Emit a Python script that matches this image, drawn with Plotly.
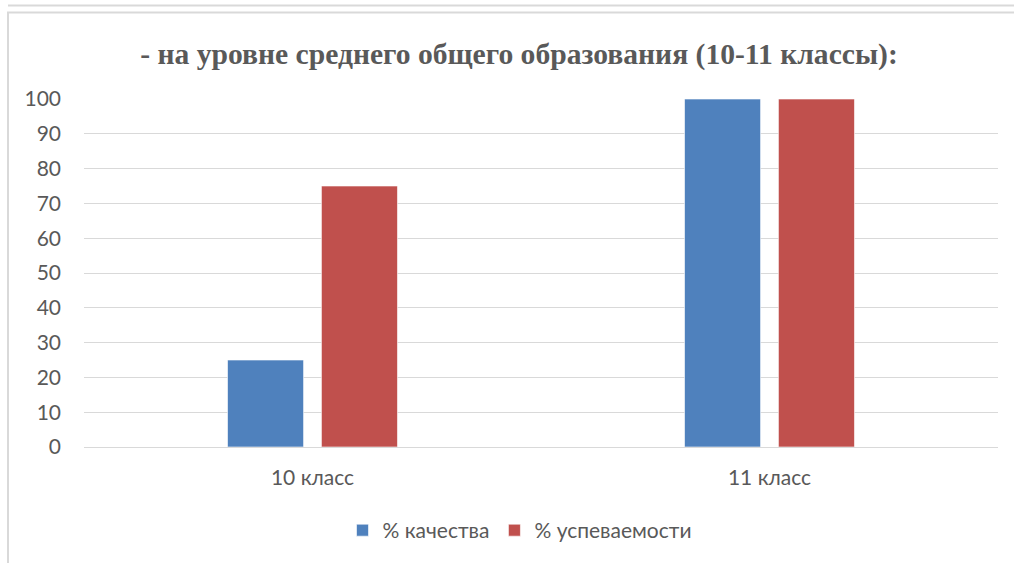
import plotly.graph_objects as go

categories = ["10 класс", "11 класс"]
series_names = ["% качества", "% успеваемости"]
quality = [25, 100]
progress = [75, 100]
y_ticks = [0, 10, 20, 30, 40, 50, 60, 70, 80, 90, 100]
title_text = "- на уровне среднего общего образования (10-11 классы):"

W, H = 1014, 563
L, R, T, B = 84, 16, 99, 114
pw, ph = W - L - R, H - T - B

def px(x):
    return (x - L) / pw

def py(y):
    return (H - B - y) / ph

colors = ["#4F81BD", "#C0504D"]
fig = go.Figure()
for name, vals, c in zip(series_names, [quality, progress], colors):
    fig.add_trace(go.Bar(
        x=categories, y=vals, name=name,
        marker=dict(color=c, line=dict(color="rgba(255,255,255,0.6)", width=1)),
    ))

tick_font = dict(family="Lato, Noto Sans, sans-serif", size=21, color="#595959")

fig.update_layout(
    width=W, height=H,
    margin=dict(l=L, r=R, t=T, b=B),
    paper_bgcolor="white", plot_bgcolor="white",
    barmode="group", bargap=0.589, bargroupgap=0.19,
    title=dict(
        text="<b>" + title_text + "</b>",
        x=519 / W, xref="container", xanchor="center",
        y=1 - 53.5 / H, yref="container", yanchor="middle",
        font=dict(family="Liberation Serif, Times New Roman, serif", size=29.6, color="#595959"),
    ),
    showlegend=True,
    legend=dict(
        orientation="h", x=px(520), xanchor="center", y=py(533), yanchor="middle",
        font=tick_font, itemwidth=30, traceorder="normal",
    ),
    xaxis=dict(
        showgrid=False, showline=True, linecolor="#D9D9D9", linewidth=1,
        tickfont=tick_font, ticks="", ticklabelstandoff=12,
    ),
    yaxis=dict(
        range=[0, 100], tickvals=y_ticks, showgrid=True, gridcolor="#D9D9D9", gridwidth=1,
        zeroline=False, showline=False, tickfont=tick_font, ticks="",
        ticklabelstandoff=22,
    ),
    shapes=[
        dict(type="rect", xref="paper", yref="paper",
             x0=px(8), x1=px(1030), y0=py(12), y1=py(580),
             line=dict(color="#D9D9D9", width=2), layer="below"),
        dict(type="line", xref="paper", yref="paper",
             x0=px(8), x1=px(1030), y0=py(5), y1=py(5),
             line=dict(color="#D9D9D9", width=2), layer="below"),
    ],
)

fig.write_html("out.html", config={"displayModeBar": False},
               post_script="document.body.style.margin='0';")
